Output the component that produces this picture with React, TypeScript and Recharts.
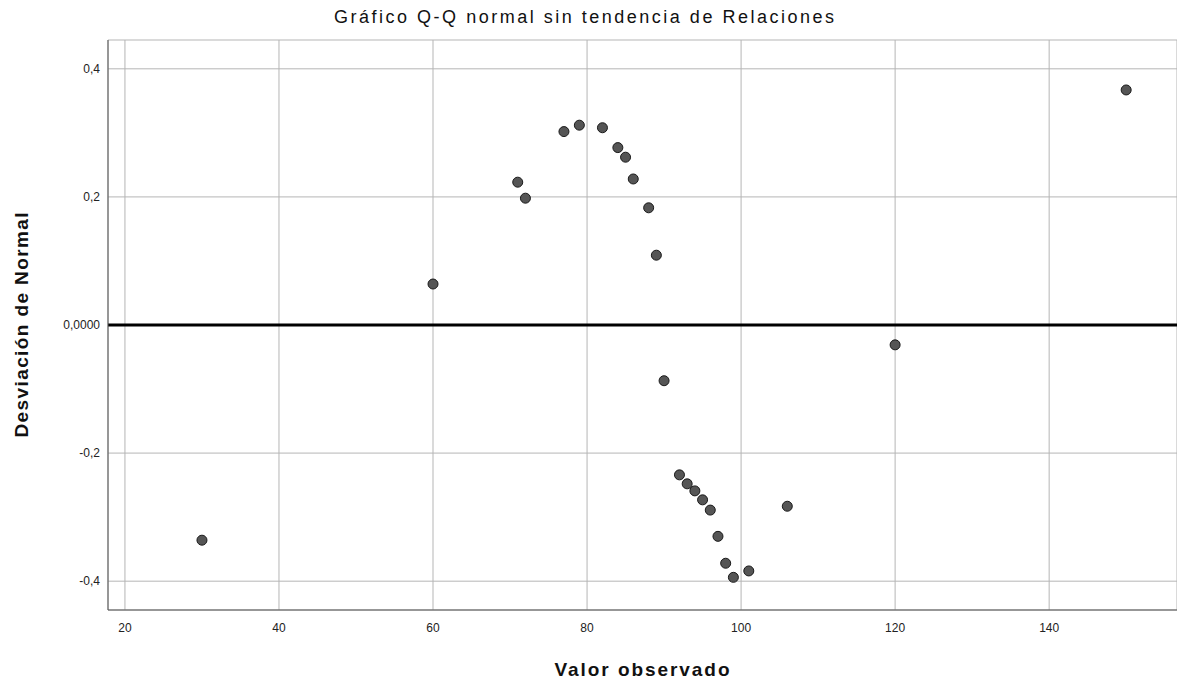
import {
  ScatterChart,
  Scatter,
  XAxis,
  YAxis,
  CartesianGrid,
  ReferenceLine,
} from "recharts";

// observed values and their deviation from normal
const observed = [30, 60, 71, 72, 77, 79, 82, 84, 85, 86, 88, 89, 90, 92, 93, 94, 95, 96, 97, 98, 99, 101, 106, 120, 150];
const deviation = [
  -0.336, 0.064, 0.223, 0.198, 0.302, 0.312, 0.308, 0.277, 0.262, 0.228, 0.183, 0.109, -0.087,
  -0.234, -0.248, -0.259, -0.273, -0.289, -0.33, -0.372, -0.394, -0.384, -0.283, -0.031, 0.367,
];

const xTicks = [20, 40, 60, 80, 100, 120, 140];
const yTicks = [-0.4, -0.2, 0, 0.2, 0.4];

const title = "Gráfico Q-Q normal sin tendencia de Relaciones";
const xTitle = "Valor observado";
const yTitle = "Desviación de Normal";

const points = observed.map((x, i) => ({ x, y: deviation[i] }));

const font = "'Liberation Sans', Arial, sans-serif";

const formatY = (v: number) => (v === 0 ? "0,0000" : v.toFixed(1).replace(".", ","));

const Dot = (props: any) => (
  <circle cx={props.cx} cy={props.cy} r={5} fill="#555" stroke="#1a1a1a" strokeWidth={1} />
);

export default function App() {
  return (
    <div style={{ position: "absolute", left: 0, top: 0, width: 1177, height: 686, background: "#fff" }}>
      <ScatterChart width={1177} height={686} margin={{ top: 40, right: 0, bottom: 36, left: 0 }}>
        <CartesianGrid stroke="#b5b5b5" strokeWidth={1} />
        <XAxis
          type="number"
          dataKey="x"
          domain={[17.8, 156.6]}
          ticks={xTicks}
          allowDataOverflow
          height={40}
          tickLine={false}
          tickMargin={7}
          axisLine={{ stroke: "#555" }}
          tick={{ fill: "#222", fontSize: 12, fontFamily: font }}
        />
        <YAxis
          type="number"
          dataKey="y"
          domain={[-0.445, 0.445]}
          ticks={yTicks}
          allowDataOverflow
          width={108}
          tickLine={false}
          tickMargin={2}
          tickFormatter={formatY}
          axisLine={{ stroke: "#555" }}
          tick={{ fill: "#222", fontSize: 12, fontFamily: font }}
        />
        <ReferenceLine y={0} stroke="#000" strokeWidth={3} />
        <Scatter data={points} shape={Dot} isAnimationActive={false} />
      </ScatterChart>
      <svg
        width={1177}
        height={686}
        style={{ position: "absolute", left: 0, top: 0, pointerEvents: "none" }}
        fontFamily={font}
      >
        <text x={584} y={23} textAnchor="middle" fontSize={18} fill="#111" textLength={500} lengthAdjust="spacing">
          {title}
        </text>
        <text x={642} y={676} textAnchor="middle" fontSize={19} fontWeight="bold" fill="#111" textLength={175} lengthAdjust="spacing">
          {xTitle}
        </text>
        <text
          x={0}
          y={0}
          transform="translate(28,325) rotate(-90)"
          textAnchor="middle"
          fontSize={19}
          fontWeight="bold"
          fill="#111"
          textLength={225}
          lengthAdjust="spacing"
        >
          {yTitle}
        </text>
      </svg>
    </div>
  );
}
